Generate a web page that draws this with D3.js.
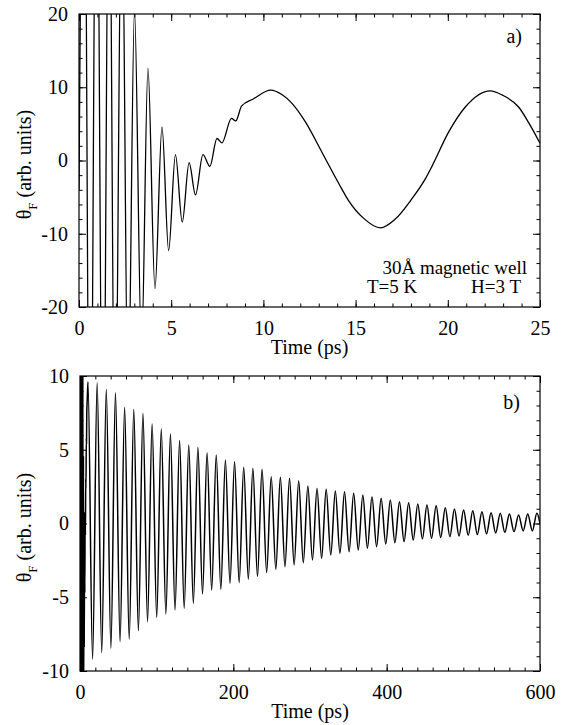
<!DOCTYPE html>
<html lang="en">
<head>
<meta charset="UTF-8">
<script src="https://d3js.org/d3.v7.min.js"></script>
<title>Faraday rotation traces</title>
<style>
  body { margin: 0; background: #fff; }
</style>
</head>
<body>
<script>
// panel a: short time window (ps, arb. units)
var aTime = [0, 0.27, 0.60, 0.95, 1.30, 1.63, 1.95, 2.32, 2.66, 3.01,
             3.39, 3.74, 4.12, 4.50, 4.86, 5.23, 5.60, 5.97, 6.32, 6.72,
             7.10, 7.48, 7.75, 8.27, 8.50, 8.82, 9.45, 10.4, 11.0, 11.55,
             12.27, 13.18, 14.08, 14.6, 15.44, 16.35, 17.15, 18.06, 18.78, 19.14,
             20.05, 20.95, 22.3, 22.94, 23.84, 24.4, 25];
var aVal  = [-4, 60, -58, 55, -52, 48, -44, 40, -34, 20.5,
             -26, 12.6, -17.5, 4.6, -12.3, 0.8, -8.4, -0.3, -4.7, 0.8,
             -0.8, 3.0, 2.4, 5.75, 5.4, 7.45, 8.4, 9.6, 9.0, 7.8,
             5.3, 1.1, -3.1, -5.4, -7.9, -9.2, -8.0, -5.2, -2.5, -0.8,
             3.9, 7.3, 9.5, 8.95, 7.3, 5.1, 2.35];

// panel b: maxima and minima of the long trace
var bPeakTime = [10.4, 22.35, 34.3, 46.25, 58.2, 70.15, 82.1, 94.05, 106.0, 117.95,
                 129.9, 141.85, 153.8, 165.75, 177.7, 189.65, 201.6, 213.55, 225.5, 237.45,
                 249.4, 261.35, 273.3, 285.25, 297.2, 309.15, 321.1, 333.05, 345.0, 356.95,
                 368.9, 380.85, 392.8, 404.75, 416.7, 428.65, 440.6, 452.55, 464.5, 476.45,
                 488.4, 500.35, 512.3, 524.25, 536.2, 548.15, 560.1, 572.05, 584.0, 595.95];
var bPeakVal  = [9.61, 9.55, 9.10, 8.87, 7.88, 7.74, 7.47, 6.75, 6.41, 6.07,
                 5.62, 5.32, 5.17, 4.80, 4.64, 4.31, 4.19, 3.81, 3.74, 3.67,
                 3.17, 3.13, 3.06, 2.90, 2.54, 2.38, 2.32, 2.20, 2.16, 2.05,
                 1.93, 1.82, 1.71, 1.59, 1.48, 1.41, 1.32, 1.25, 1.21, 1.07,
                 0.98, 0.92, 0.87, 0.80, 0.73, 0.69, 0.64, 0.58, 0.64, 0.69];
var bTroughTime = [16.4, 28.35, 40.3, 52.25, 64.2, 76.15, 88.1, 100.05, 112.0, 123.95,
                   135.9, 147.85, 159.8, 171.75, 183.7, 195.65, 207.6, 219.55, 231.5, 243.45,
                   255.4, 267.35, 279.3, 291.25, 303.2, 315.15, 327.1, 339.05, 351.0, 362.95,
                   374.9, 386.85, 398.8, 410.75, 422.7, 434.65, 446.6, 458.55, 470.5, 482.45,
                   494.4, 506.35, 518.3, 530.25, 542.2, 554.15, 566.1, 578.05, 590.0];
var bTroughVal  = [-9.21, -8.76, -8.46, -8.01, -7.85, -7.27, -6.66, -6.36, -6.14, -5.86,
                   -5.75, -5.41, -4.78, -4.51, -4.46, -4.06, -4.01, -3.78, -3.60, -3.33,
                   -3.11, -2.93, -2.81, -2.66, -2.47, -2.36, -2.14, -2.02, -1.91, -1.80,
                   -1.68, -1.57, -1.39, -1.30, -1.23, -1.12, -1.05, -1.0, -0.95, -0.9,
                   -0.85, -0.8, -0.75, -0.7, -0.65, -0.6, -0.55, -0.5, -0.5];
var bEndTime = 600, bEndVal = 0.0;

var aXTicks = [0, 5, 10, 15, 20, 25];
var aYTicks = [-20, -10, 0, 10, 20];
var bXTicks = [0, 200, 400, 600];
var bYTicks = [-10, -5, 0, 5, 10];

var serif = "'Liberation Serif', 'Times New Roman', Times, serif";

var svg = d3.select("body").append("svg")
    .attr("width", 564)
    .attr("height", 725)
    .attr("font-family", serif);

// build the series
var aData = aTime.map(function (t, i) { return [t, aVal[i]]; });

var bData = aData.filter(function (d) { return d[0] < 10; });
var ext = bPeakTime.map(function (t, i) { return [t, bPeakVal[i]]; })
    .concat(bTroughTime.map(function (t, i) { return [t, bTroughVal[i]]; }));
ext.sort(function (p, q) { return p[0] - q[0]; });
bData = bData.concat(ext);
bData.push([bEndTime, bEndVal]);

function txt(g, s, size) {
    return g.append("text")
        .attr("font-family", serif)
        .attr("font-size", size || 20)
        .attr("fill", "#000")
        .text(s);
}

function drawPanel(cfg) {
    var g = svg.append("g")
        .attr("transform", "translate(" + cfg.left + "," + cfg.top + ")");

    var x = d3.scaleLinear().domain(cfg.xDomain).range([0, cfg.w]);
    var y = d3.scaleLinear().domain(cfg.yDomain).range([cfg.h, 0]);

    g.append("clipPath").attr("id", cfg.id + "-clip")
        .append("rect").attr("width", cfg.w).attr("height", cfg.h);

    var line = d3.line()
        .x(function (d) { return x(d[0]); })
        .y(function (d) { return y(d[1]); })
        .curve(d3.curveMonotoneX);

    g.append("path")
        .datum(cfg.data)
        .attr("clip-path", "url(#" + cfg.id + "-clip)")
        .attr("fill", "none")
        .attr("stroke", "#000")
        .attr("stroke-width", cfg.stroke)
        .attr("stroke-linejoin", "round")
        .attr("d", line);

    // ticks on all four sides, pointing in
    function side(axis, tr, vals, size, fmt, pad) {
        var a = g.append("g").attr("transform", tr)
            .call(axis.tickValues(vals).tickSize(-size).tickPadding(pad || 3)
                .tickFormat(fmt || ""));
        a.select(".domain").remove();
        a.selectAll("line").attr("stroke", "#000").attr("stroke-width", 1);
        a.attr("font-size", 20).attr("font-family", serif);
        a.selectAll("text").attr("font-family", serif).attr("fill", "#000");
        return a;
    }
    var lab = function (d) { return String(d); };
    var xMinor = x.ticks(cfg.xMinor), yMinor = y.ticks(cfg.yMinor);

    side(d3.axisBottom(x), "translate(0," + cfg.h + ")", xMinor, 3.5);
    side(d3.axisTop(x), "translate(0,0)", xMinor, 3.5);
    side(d3.axisLeft(y), "translate(0,0)", yMinor, 3.5);
    side(d3.axisRight(y), "translate(" + cfg.w + ",0)", yMinor, 3.5);

    side(d3.axisBottom(x), "translate(0," + cfg.h + ")", cfg.xTicks, 7, lab, 14);
    side(d3.axisTop(x), "translate(0,0)", cfg.xTicks, 7);
    side(d3.axisLeft(y), "translate(0,0)", cfg.yTicks, 7, lab, 11);
    side(d3.axisRight(y), "translate(" + cfg.w + ",0)", cfg.yTicks, 7);

    g.append("rect")
        .attr("width", cfg.w).attr("height", cfg.h)
        .attr("fill", "none").attr("stroke", "#000").attr("stroke-width", 1.2);

    // axis titles
    txt(g, "Time (ps)")
        .attr("x", cfg.w / 2).attr("y", cfg.h + 47)
        .attr("text-anchor", "middle");

    var yt = txt(g, null)
        .attr("transform", "translate(" + (31 - cfg.left) + "," + (cfg.h / 2 + 4) + ") rotate(-90)")
        .attr("text-anchor", "middle");
    yt.append("tspan").text("\u03b8");
    yt.append("tspan").attr("font-size", 13).attr("dy", 6).text("F");
    yt.append("tspan").attr("dy", -6).text(" (arb. units)");

    txt(g, cfg.tag)
        .attr("x", cfg.tagX).attr("y", cfg.tagY)
        .attr("text-anchor", "end");

    return g;
}

var ga = drawPanel({
    id: "pa", left: 79, top: 14, w: 461, h: 293, stroke: 1.3,
    xDomain: [0, 25], yDomain: [-20, 20],
    xTicks: aXTicks, yTicks: aYTicks, xMinor: 25, yMinor: 20,
    data: aData, tag: "a)", tagX: 443, tagY: 29
});

txt(ga, "30\u00c5 magnetic well", 19)
    .attr("x", 448).attr("y", 260)
    .attr("text-anchor", "end");
txt(ga, "T=5 K", 19)
    .attr("x", 288).attr("y", 279);
txt(ga, "H=3 T", 19)
    .attr("x", 442).attr("y", 279)
    .attr("text-anchor", "end");

drawPanel({
    id: "pb", left: 80, top: 376, w: 460, h: 295, stroke: 1.5,
    xDomain: [0, 600], yDomain: [-10, 10],
    xTicks: bXTicks, yTicks: bYTicks, xMinor: 30, yMinor: 20,
    data: bData, tag: "b)", tagX: 440, tagY: 33
});
</script>
</body>
</html>
